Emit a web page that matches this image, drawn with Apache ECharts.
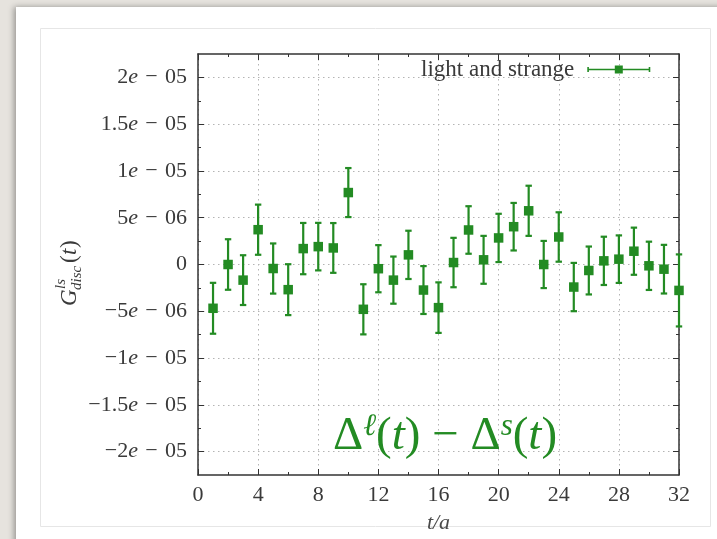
<!DOCTYPE html>
<html><head><meta charset="utf-8">
<script src="https://cdn.jsdelivr.net/npm/echarts@6/dist/echarts.min.js"></script>
<style>html,body{margin:0;padding:0;background:#e6e3de}#c{width:717px;height:539px}</style>
</head><body><div id="c"></div>
<script>
// ---- data ----
const tValues = [1,2,3,4,5,6,7,8,9,10,11,12,13,14,15,16,17,18,19,20,21,22,23,24,25,26,27,28,29,30,31,32];
const gValues = [-4.68e-6, 0.0, -1.67e-6, 3.72e-6, -0.43e-6, -2.69e-6, 1.70e-6, 1.91e-6,
                 1.77e-6, 7.69e-6, -4.79e-6, -0.45e-6, -1.67e-6, 1.03e-6, -2.73e-6, -4.61e-6,
                 0.21e-6, 3.69e-6, 0.50e-6, 2.84e-6, 4.04e-6, 5.74e-6, 0.0, 2.94e-6,
                 -2.41e-6, -0.64e-6, 0.39e-6, 0.57e-6, 1.42e-6, -0.14e-6, -0.50e-6, -2.77e-6];
const gErrors = [2.72e-6, 2.70e-6, 2.66e-6, 2.68e-6, 2.68e-6, 2.72e-6, 2.74e-6, 2.54e-6,
                 2.66e-6, 2.62e-6, 2.68e-6, 2.52e-6, 2.52e-6, 2.58e-6, 2.56e-6, 2.70e-6,
                 2.64e-6, 2.54e-6, 2.56e-6, 2.58e-6, 2.54e-6, 2.68e-6, 2.52e-6, 2.64e-6,
                 2.58e-6, 2.56e-6, 2.58e-6, 2.54e-6, 2.52e-6, 2.58e-6, 2.60e-6, 3.85e-6];
const xTickValues = [0,4,8,12,16,20,24,28,32];
const xTickLabels = ['0','4','8','12','16','20','24','28','32'];
const yTickValues = [-2e-5,-1.5e-5,-1e-5,-5e-6,0,5e-6,1e-5,1.5e-5,2e-5];
const yTickLabels = ['−2{e|e}\u2004−\u200405','−1.5{e|e}\u2004−\u200405','−1{e|e}\u2004−\u200405','−5{e|e}\u2004−\u200406','0',
                     '5{e|e}\u2004−\u200406','1{e|e}\u2004−\u200405','1.5{e|e}\u2004−\u200405','2{e|e}\u2004−\u200405'];
const yMinorTickValues = [-1.75e-5,-1.25e-5,-7.5e-6,-2.5e-6,2.5e-6,7.5e-6,1.25e-5,1.75e-5];
const yMin = -2.25e-5, yMax = 2.25e-5;
const seriesName = 'light and strange';

// ---- style ----
const FONT = '"Liberation Serif", "DejaVu Serif", serif';
const GREEN = '#238b23';
const AXC = '#333';
const TXT = '#3a3a3a';

const chart = echarts.init(document.getElementById('c'), null, {renderer:'canvas'});

function fmtFrom(values, labels){
  return function(v){
    for (let i=0;i<values.length;i++){ if (Math.abs(values[i]-v) < 1e-12) return labels[i]; }
    return '';
  };
}
const axisLineStyle = {color: AXC, width: 1.5};
function yAxisDef(pos, major){
  return {
    type:'value', min:yMin, max:yMax, position:pos,
    axisLine:{show: major, onZero:false, lineStyle: axisLineStyle},
    axisTick:{show:true, inside:true, length: major?6:3, customValues: major?yTickValues:yMinorTickValues,
              lineStyle:{color:AXC, width:1}},
    axisLabel:{show: major && pos==='left', customValues: yTickValues, formatter: fmtFrom(yTickValues, yTickLabels),
               margin: 11, fontFamily: FONT, fontSize: 22, color: TXT,
               rich:{e:{fontFamily:FONT, fontSize:22, fontStyle:'italic', color:TXT}}},
    splitLine:{show: major && pos==='left', lineStyle:{color:'#b4b4b4', width:1, type:[1.5,3.5]}}
  };
}
function xAxisDef(pos){
  const b = pos==='bottom';
  return {
    type:'value', min:0, max:32, interval:4, position:pos,
    axisLine:{show:true, onZero:false, lineStyle: axisLineStyle},
    axisTick:{show:true, inside:true, length:6, lineStyle:{color:AXC, width:1}},
    minorTick:{show:true, splitNumber:2, length:3, lineStyle:{color:AXC, width:1}},
    axisLabel:{show:b, margin:9, formatter: fmtFrom(xTickValues, xTickLabels), fontFamily:FONT, fontSize:22, color:TXT},
    splitLine:{show:b, lineStyle:{color:'#b4b4b4', width:1, type:[1.5,3.5]}},
    name: b ? 't/a' : '', nameLocation:'middle', nameGap: 37,
    nameTextStyle:{fontFamily:FONT, fontStyle:'italic', fontSize:22, color:'#4a4a4a'}
  };
}

const option = {
  backgroundColor:'#e6e3de',
  animation:false,
  grid:{left:198, right:38, top:54, bottom:61, containLabel:false},
  xAxis:[xAxisDef('bottom'), xAxisDef('top')],
  yAxis:[yAxisDef('left',true), yAxisDef('left',false), yAxisDef('right',true), yAxisDef('right',false)],
  legend:{
    data:[{name:seriesName, icon:'path://M0,2.5h1.6v5h-1.6z M0,4.2h63v1.6h-63z M61.4,2.5h1.6v5h-1.6z M27.5,1h8v8h-8z'}],
    left:421, top:58, padding:0, align:'right', itemWidth:63, itemHeight:8,
    textStyle:{fontFamily:FONT, fontSize:23, color:TXT, padding:[0,8,0,0]},
    selectedMode:false
  },
  graphic:[
    {type:'rect', z:-30, shape:{x:16, y:7, width:720, height:560},
     style:{fill:'#ffffff', shadowBlur:6, shadowColor:'rgba(0,0,0,0.35)', shadowOffsetX:-2, shadowOffsetY:0}},
    {type:'rect', z:-20, shape:{x:40.5, y:28.5, width:670, height:498},
     style:{fill:'#ffffff', stroke:'#e6e6e6', lineWidth:1}},
    {type:'group', x:70, y:306, rotation:Math.PI/2, children:[
      {type:'text', x:0, y:0, style:{text:'G', fontFamily:FONT, fontStyle:'italic', fontSize:23, fill:TXT, verticalAlign:'middle'}},
      {type:'text', x:17, y:-9, style:{text:'ls', fontFamily:FONT, fontStyle:'italic', fontSize:15, fill:TXT, verticalAlign:'middle'}},
      {type:'text', x:16, y:7, style:{text:'disc', fontFamily:FONT, fontStyle:'italic', fontSize:15, fill:TXT, verticalAlign:'middle'}},
      {type:'text', x:43, y:0, style:{text:'(', fontFamily:FONT, fontSize:23, fill:TXT, verticalAlign:'middle'}},
      {type:'text', x:51, y:0, style:{text:'t', fontFamily:FONT, fontStyle:'italic', fontSize:23, fill:TXT, verticalAlign:'middle'}},
      {type:'text', x:58, y:0, style:{text:')', fontFamily:FONT, fontSize:23, fill:TXT, verticalAlign:'middle'}}
    ]},
    {type:'text', x:445, y:437, z:10, style:{
      text:'{d|Δ}{s|ℓ}{d|(}{i|t}{d|)\u2005−\u2005Δ}{s|s}{d|(}{i|t}{d|)}',
      align:'center', verticalAlign:'middle', fill:GREEN,
      rich:{
        d:{fontFamily:FONT, fontSize:47, fill:GREEN, lineHeight:52},
        i:{fontFamily:FONT, fontSize:47, fontStyle:'italic', fill:GREEN, lineHeight:52},
        s:{fontFamily:FONT, fontSize:31, fontStyle:'italic', fill:GREEN, lineHeight:52, verticalAlign:'top'}
      }
    }}
  ],
  series:[
    {
      name:seriesName, type:'custom', xAxisIndex:0, yAxisIndex:0, clip:false, z:2,
      encode:{x:0, y:1},
      data: tValues.map((t,i)=>[t, gValues[i], gErrors[i]]),
      renderItem:function(params, api){
        const t = api.value(0), v = api.value(1), e = api.value(2);
        const hi = api.coord([t, v+e]), lo = api.coord([t, v-e]);
        const cw = 3.2;
        const st = {stroke:GREEN, lineWidth:2.2};
        return {type:'group', children:[
          {type:'line', shape:{x1:hi[0], y1:hi[1], x2:lo[0], y2:lo[1]}, style:st},
          {type:'line', shape:{x1:hi[0]-cw, y1:hi[1], x2:hi[0]+cw, y2:hi[1]}, style:st},
          {type:'line', shape:{x1:lo[0]-cw, y1:lo[1], x2:lo[0]+cw, y2:lo[1]}, style:st}
        ]};
      },
      itemStyle:{color:GREEN}
    },
    {
      name:seriesName, type:'scatter', xAxisIndex:0, yAxisIndex:0, clip:false, z:3,
      symbol:'rect', symbolSize:9.5,
      data: tValues.map((t,i)=>[t, gValues[i]]),
      itemStyle:{color:GREEN, opacity:1}
    }
  ]
};
chart.setOption(option);
</script></body></html>
